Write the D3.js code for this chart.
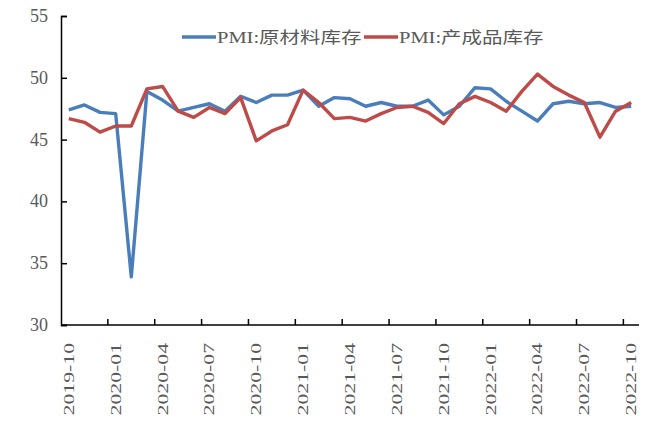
<!DOCTYPE html>
<html>
<head>
<meta charset="utf-8">
<script src="https://cdn.jsdelivr.net/npm/d3@7"></script>
<style>
  body { margin: 0; background: #fff; }
  svg { display: block; }
</style>
</head>
<body>
<div id="chart"></div>
<script>
// months from 2019-10 to 2022-10
const months = ["2019-10","2019-11","2019-12","2020-01","2020-02","2020-03","2020-04","2020-05","2020-06",
  "2020-07","2020-08","2020-09","2020-10","2020-11","2020-12","2021-01","2021-02","2021-03","2021-04",
  "2021-05","2021-06","2021-07","2021-08","2021-09","2021-10","2021-11","2021-12","2022-01","2022-02",
  "2022-03","2022-04","2022-05","2022-06","2022-07","2022-08","2022-09","2022-10"];

// PMI: raw material inventory
const rawMaterial = [47.4,47.8,47.2,47.1,33.9,48.9,48.2,47.3,47.6,47.9,47.3,48.5,48.0,48.6,48.6,49.0,47.7,48.4,
  48.3,47.7,48.0,47.7,47.7,48.2,47.0,47.7,49.2,49.1,48.1,47.3,46.5,47.9,48.1,47.9,48.0,47.6,47.7];

// PMI: finished goods inventory
const finishedGoods = [46.7,46.4,45.6,46.1,46.1,49.1,49.3,47.3,46.8,47.6,47.1,48.4,44.9,45.7,46.2,49.0,48.0,46.7,
  46.8,46.5,47.1,47.6,47.7,47.2,46.3,47.9,48.5,48.0,47.3,48.9,50.3,49.3,48.6,48.0,45.2,47.3,48.0];

const yTicks = [30, 35, 40, 45, 50, 55];

const seriesNames = ["PMI:原材料库存", "PMI:产成品库存"];
const colors = ["#4A7EBB", "#BE4B48"];

const width = 651, height = 423;
const margin = {top: 16, right: 12, bottom: 98, left: 61};

const svg = d3.select("#chart").append("svg")
    .attr("width", width)
    .attr("height", height);

const xScale = d3.scaleBand()
    .domain(months)
    .range([margin.left, width - margin.right])
    .paddingInner(0).paddingOuter(0);

const yScale = d3.scaleLinear()
    .domain([30, 55])
    .range([height - margin.bottom, margin.top]);

const xc = d => xScale(d) + xScale.bandwidth() / 2;
const textFont = "'Liberation Serif', 'Times New Roman', 'Noto Sans CJK SC', serif";

// y axis
const yAxis = svg.append("g")
    .attr("transform", `translate(${margin.left}, 0)`)
    .call(d3.axisRight(yScale).tickValues(yTicks).tickSize(6).tickFormat(""));
yAxis.select(".domain").attr("stroke", "#000").attr("stroke-width", 1.5);
yAxis.selectAll(".tick line").attr("stroke", "#000").attr("stroke-width", 1.5);

svg.append("g").selectAll("text")
    .data(yTicks)
    .enter()
    .append("text")
    .attr("x", 48)
    .attr("y", d => yScale(d) + 6)
    .attr("text-anchor", "end")
    .attr("font-family", textFont)
    .attr("font-size", 18)
    .attr("fill", "#595959")
    .text(d => d);

// x axis - ticks between every 3rd category
const tickMonths = months.filter((d, i) => i > 0 && i % 3 === 0);
const xAxisG = svg.append("g")
    .attr("transform", `translate(0, ${yScale(30)})`);
xAxisG.append("line")
    .attr("x1", margin.left).attr("x2", width - margin.right)
    .attr("stroke", "#000").attr("stroke-width", 1.5);
xAxisG.selectAll(".xtick")
    .data(tickMonths)
    .enter()
    .append("line")
    .attr("class", "xtick")
    .attr("x1", d => xScale(d)).attr("x2", d => xScale(d))
    .attr("y1", 0).attr("y2", -6)
    .attr("stroke", "#000").attr("stroke-width", 1.5);

const labelMonths = months.filter((d, i) => i % 3 === 0);
svg.append("g").selectAll("text")
    .data(labelMonths)
    .enter()
    .append("text")
    .attr("transform", d => `translate(${xc(d) + 5}, ${yScale(30) + 18}) rotate(-90) scale(1.45, 1)`)
    .attr("text-anchor", "end")
    .attr("font-family", textFont)
    .attr("font-size", 15)
    .attr("fill", "#595959")
    .text(d => d);

// lines
const line = d3.line()
    .x((d, i) => xc(months[i]))
    .y(d => yScale(d));

[rawMaterial, finishedGoods].forEach((s, k) => {
    svg.append("path")
        .datum(s)
        .attr("d", line)
        .attr("fill", "none")
        .attr("stroke", colors[k])
        .attr("stroke-width", 3.4)
        .attr("stroke-linejoin", "round");
});

// legend
const legendX = [182, 364];
const legend = svg.append("g").attr("id", "legend");
legend.selectAll("line")
    .data(seriesNames)
    .enter()
    .append("line")
    .attr("x1", (d, i) => legendX[i])
    .attr("x2", (d, i) => legendX[i] + 34)
    .attr("y1", 37).attr("y2", 37)
    .attr("stroke", (d, i) => colors[i])
    .attr("stroke-width", 3.4);
legend.selectAll("text")
    .data(seriesNames)
    .enter()
    .append("text")
    .attr("transform", (d, i) => `translate(${legendX[i] + 35}, 43) scale(1.28, 1)`)
    .attr("font-family", textFont)
    .attr("font-size", 16)
    .attr("fill", "#595959")
    .text(d => d);
</script>
</body>
</html>
